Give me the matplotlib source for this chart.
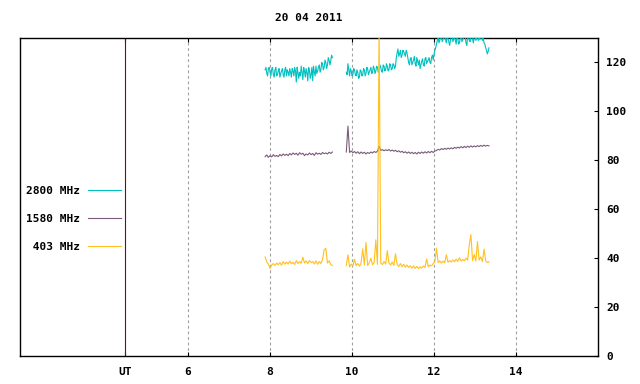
import numpy as np
import matplotlib.pyplot as plt
from matplotlib.lines import Line2D

f2800_seg1 = [117, 118, 115.5, 114.5, 117.5, 118, 116, 114.5, 117.5, 118,
              115, 114, 117, 118, 114.5, 115, 116.5, 117.5, 114, 115.5,
              116.5, 117.5, 115, 114, 117, 118, 114.5, 117, 116, 114.5,
              117.5, 116, 114, 117.5, 116.5, 114.5, 118, 116.5, 112, 118,
              116, 113.5, 116, 114.5, 118.5, 116, 113, 118, 116.5, 114,
              117.5, 116, 112.5, 118, 117, 113.5, 115, 118, 112.5, 118.5,
              116, 114.5, 118.5, 115.5, 116.5, 118, 119, 116, 117, 120,
              119.5, 117, 118, 121, 120, 117.5, 119, 122, 121, 119,
              120.5, 123, 122]
f2800_seg2 = [116, 115, 119.5, 117, 114.5, 117.5, 116.5, 114.5, 115, 117.5,
              117, 115, 114.5, 117, 116, 113.5, 114, 117, 116.5, 114.5,
              115, 117.5, 117, 114.5, 115.5, 118, 117.5, 115, 116, 117,
              118, 115.5, 116, 118.5, 117.5, 115.5, 116.5, 118.5, 118, 116,
              116.5, 119, 118, 116.5, 116, 119, 118.5, 116.5, 117, 119.5,
              118.5, 116.5, 117, 119.5, 119, 117, 117.5, 119.5, 119, 117.5,
              118.5, 122, 124, 125.5, 122.5, 123.5, 125, 122, 123, 125,
              124.5, 123.5, 122.5, 125, 124, 122, 120, 119, 121.5, 122,
              119, 120, 121, 122.5, 119.5, 118.5, 122, 120.5, 119, 121,
              117.5, 119, 120.5, 121.5, 119, 118.5, 121.5, 122, 119.5, 120.5,
              121, 122, 120, 119.5, 122, 123, 121, 123.5, 125, 126,
              127.5, 129, 130.5, 128, 129, 130.5, 131, 128.5, 129.5, 130,
              131, 129.5, 128, 131, 130, 128.5, 127, 129, 130.5, 131,
              128.5, 129.5, 131, 129, 127.5, 131, 130, 127.5, 128, 130,
              131, 128.5, 129.5, 130, 131, 130.5, 128, 127, 130.5, 131,
              129, 128.5, 131, 130.5, 129.5, 128, 130.5, 131, 129, 130,
              131, 129, 130, 129.5, 131, 130.5, 129, 130, 128, 127.5,
              126, 125, 123.5, 124.5, 126]

# 1580 MHz flux
f1580_seg1 = [81.5, 82.2, 81.2, 81.9, 81.4, 82.3, 81.6, 82.0, 81.5, 82.4,
              81.8, 82.6, 82.0, 82.5, 81.9, 82.8, 82.2, 83.0, 82.4, 82.9,
              82.1, 83.1, 82.5, 82.9, 81.9, 82.6, 82.2, 83.0, 82.3, 82.8,
              82.0, 83.1, 82.5, 82.9, 82.4, 83.2, 82.7, 83.0, 82.6, 83.3,
              82.8, 83.4]
f1580_seg2 = [83.4, 94.0, 83.2, 83.8, 83.1, 83.6, 82.9, 83.5, 82.7, 83.4,
              82.8, 83.3, 82.6, 83.2, 82.8, 83.4, 83.0, 83.6, 83.2, 83.7,
              85.8, 84.0, 84.4, 83.9, 84.3, 84.0, 84.4, 83.8, 84.2, 83.7,
              84.1, 83.5, 83.9, 83.3, 83.7, 83.1, 83.5, 82.9, 83.4, 82.8,
              83.3, 82.7, 83.2, 82.6, 83.3, 82.8, 83.4, 82.9, 83.5, 83.0,
              83.6, 83.1, 83.7, 83.2, 83.8, 84.0, 84.5, 84.2, 84.8, 84.4,
              84.9, 84.5, 85.0, 84.6, 85.1, 84.7, 85.3, 84.9, 85.4, 85.0,
              85.6, 85.1, 85.7, 85.2, 85.8, 85.3, 85.9, 85.4, 85.9, 85.5,
              86.0, 85.6, 86.1, 85.7, 86.2, 85.8, 86.1, 85.9]

# 403 MHz flux
f403_seg1 = [40.5, 38.5, 37.5, 35.8, 37.2, 37.8, 37.0, 38.0, 37.3, 38.2,
             37.1, 38.6, 37.5, 38.4, 37.6, 38.8, 37.7, 38.3, 37.4, 39.0,
             37.8, 38.6, 37.9, 40.4, 38.0, 38.9, 37.8, 39.0, 38.2, 38.7,
             37.6, 38.9, 37.5, 38.6, 37.8, 39.4, 43.4, 44.0, 38.0, 38.9,
             37.4, 37.0]
f403_seg2 = [37.0, 41.4, 36.4, 37.6, 36.8, 39.6, 36.9, 37.8, 36.7, 38.0,
             43.8, 37.2, 46.4, 37.0, 38.1, 40.0, 37.3, 38.2, 47.5, 37.5,
             135.0, 38.0, 37.4, 38.6, 37.6, 43.1, 38.0, 37.2, 38.4, 37.0,
             41.8, 37.4, 36.6, 37.8, 36.5, 37.5, 36.3, 37.2, 36.2, 36.9,
             35.9, 36.8, 35.8, 36.6, 35.7, 36.5, 35.9, 36.8, 36.2, 39.7,
             36.5, 37.2, 36.8, 37.8, 38.5, 44.1, 38.2, 38.9, 38.0, 38.8,
             38.1, 41.4, 38.3, 39.0, 38.4, 39.3, 38.5, 39.6, 38.7, 40.2,
             38.8, 39.5, 38.9, 40.0, 39.2, 45.5, 49.6, 39.0, 41.5, 38.8,
             46.8, 39.2, 40.5, 38.6, 43.7, 38.9, 38.2, 38.5]

# segment limits (hours UT)
seg1_start, seg1_end = 7.88, 9.52
seg2_start, seg2_end = 9.86, 13.34

labels = ['2800 MHz', '1580 MHz', ' 403 MHz']
colors = ['#00c0c0', '#7a5a7c', '#ffc020']
xticks = [6, 8, 10, 12, 14]
ut_pos = 4.46
yticks = [0, 20, 40, 60, 80, 100, 120]

plt.rcParams['font.family'] = 'DejaVu Sans Mono'
plt.rcParams['font.weight'] = 'bold'
plt.rcParams['font.size'] = 8

fig = plt.figure(figsize=(6.4, 3.84), dpi=100)
ax = fig.add_axes([20/640, 28/384, 578/640, 318/384])


def join(a, b):
    ta = np.linspace(seg1_start, seg1_end, len(a))
    tb = np.linspace(seg2_start, seg2_end, len(b))
    return np.concatenate([ta, [np.nan], tb]), list(a) + [np.nan] + list(b)


for (a, b), c in zip([(f2800_seg1, f2800_seg2), (f1580_seg1, f1580_seg2),
                      (f403_seg1, f403_seg2)], colors):
    t, v = join(a, b)
    ax.plot(t, v, color=c, lw=0.8, zorder=3)

for x in xticks:
    ax.axvline(x, color='#a0a0a0', lw=0.8, dashes=(2.5, 2.5), zorder=1)
ax.axvline(ut_pos, color='#8b0000', lw=0.8, zorder=2)

ax.set_xlim(1.9, 16.0)
ax.set_ylim(0, 130)
ax.set_xticks([ut_pos] + xticks)
ax.set_xticklabels(['UT'] + [str(x) for x in xticks])
ax.tick_params(axis='x', direction='in', length=3, top=True, bottom=True, pad=8)
ax.yaxis.tick_right()
ax.set_yticks(yticks)
ax.tick_params(axis='y', direction='in', length=3, left=False, right=True, pad=6)
for s in ax.spines.values():
    s.set_linewidth(1)

handles = [Line2D([], [], color=c, lw=0.8) for c in colors]
ax.legend(handles, labels, markerfirst=False, frameon=False,
          loc='center right', bbox_to_anchor=(101/578, 0.431),
          borderpad=0, borderaxespad=0, handlelength=3.0,
          handletextpad=0.7, labelspacing=1.65)

fig.text(309/640, 1 - 18/384, '20 04 2011', ha='center', va='center')

fig.savefig('out.png', dpi=100)
